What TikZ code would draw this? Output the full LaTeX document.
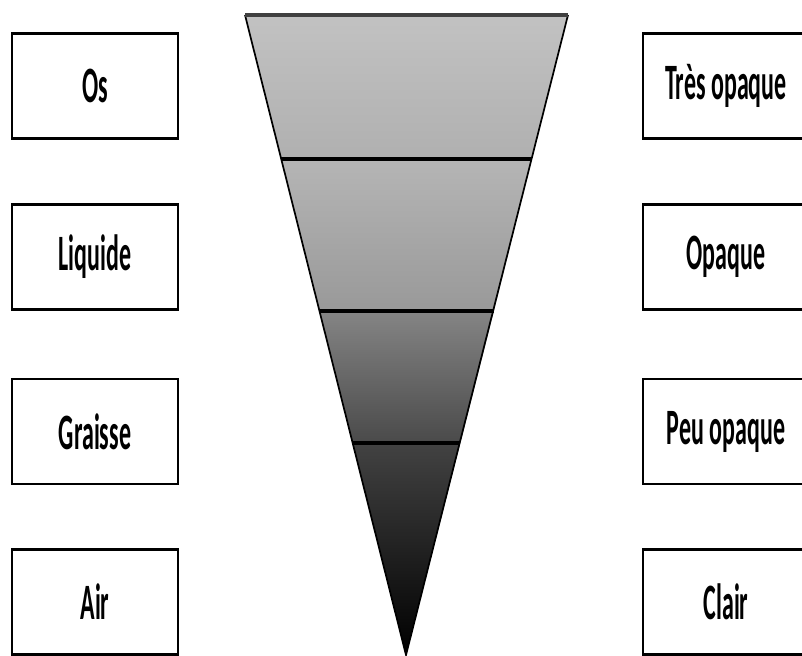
\documentclass[tikz,border=0pt]{standalone}
\usepackage{fontspec}
\newfontfamily\labfont{Carlito}[BoldFont={Carlito Bold}]
\begin{document}
\begin{tikzpicture}[x=1pt,y=-1pt,
  labbox/.style={draw=black,line width=2.4pt,fill=white,minimum width=166pt,minimum height=105pt,inner sep=0pt,
    font=\labfont\bfseries\fontsize{51}{51}\selectfont},
  divline/.style={line width=3.4pt,black},
  sideline/.style={line width=1.7pt,black}]
\useasboundingbox (0,0) rectangle (802,655);
\clip (0,0) rectangle (802,655);
\fill[white] (0,0) rectangle (802,655);
% funnel coordinates
\coordinate (t0l) at (245,15);   \coordinate (t0r) at (568,15);
\coordinate (t1l) at (281.2,159); \coordinate (t1r) at (531.5,159);
\coordinate (t2l) at (319.5,311); \coordinate (t2r) at (493.9,311);
\coordinate (t3l) at (352.7,443); \coordinate (t3r) at (460.3,443);
\coordinate (apex) at (406,655);
% sections
\shade[top color=black!24, bottom color=black!31] (t0l) -- (t0r) -- (t1r) -- (t1l) -- cycle;
\shade[top color=black!29, bottom color=black!40] (t1l) -- (t1r) -- (t2r) -- (t2l) -- cycle;
\shade[top color=black!48, bottom color=black!71] (t2l) -- (t2r) -- (t3r) -- (t3l) -- cycle;
\shade[top color=black!74, bottom color=black] (t3l) -- (t3r) -- (apex) -- cycle;
% outlines
\draw[sideline] (t0l) -- (apex) -- (t0r);
\draw[line width=3.6pt,black!75] (t0l) -- (t0r);
\draw[divline] (t1l) -- (t1r);
\draw[divline] (t2l) -- (t2r);
\draw[divline] (t3l) -- (t3r);
% left boxes
\node[labbox] (os) at (95,86) {\scalebox{0.47}[1]{Os}};
\node[labbox] (liq) at (95,257) {\scalebox{0.47}[1]{Liquide}};
\node[labbox] (gra) at (95,431.5) {\scalebox{0.47}[1]{Graisse}};
\node[labbox] (air) at (95,602) {\scalebox{0.47}[1]{Air}};
% right boxes
\node[labbox] (tres) at (726,86) {\scalebox{0.47}[1]{Très opaque}};
\node[labbox] (opa) at (726,257) {\scalebox{0.47}[1]{Opaque}};
\node[labbox] (peu) at (726,431.5) {\scalebox{0.47}[1]{Peu opaque}};
\node[labbox] (cla) at (726,602) {\scalebox{0.47}[1]{Clair}};
\end{tikzpicture}
\end{document}
